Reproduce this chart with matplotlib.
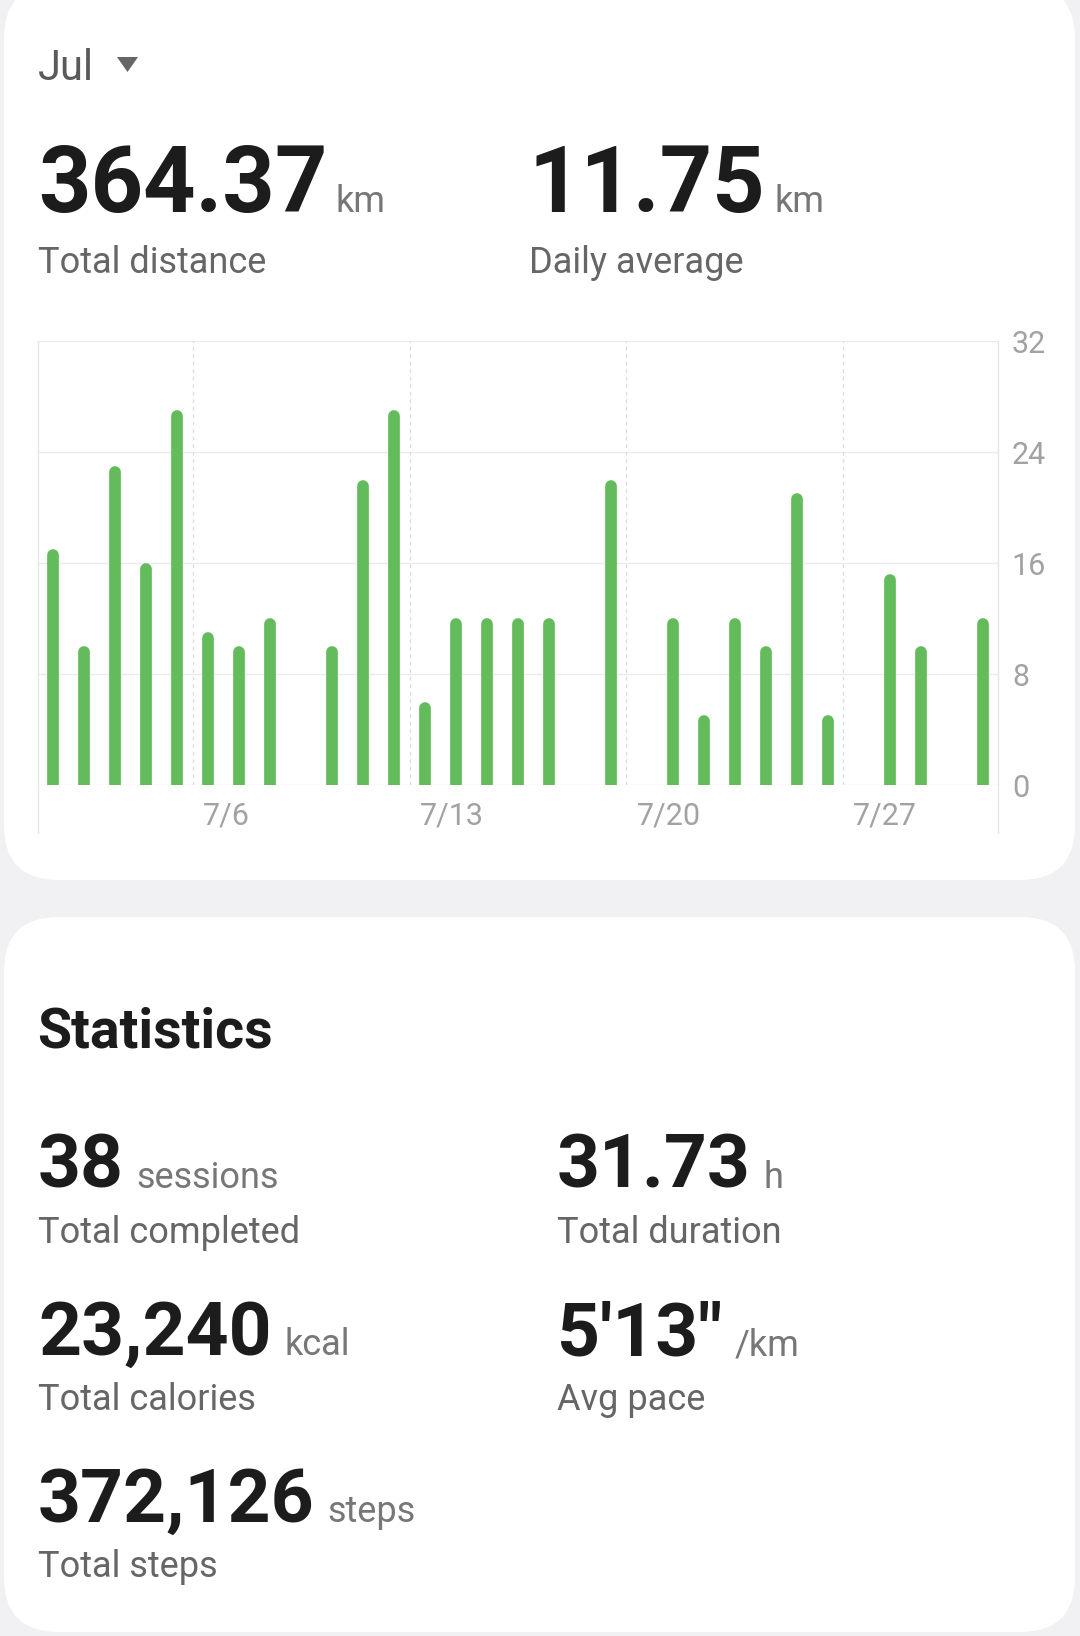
import matplotlib
matplotlib.use('Agg')
import matplotlib.pyplot as plt
import matplotlib.transforms as mtransforms
from matplotlib.patches import FancyBboxPatch, Polygon
import numpy as np

plt.rcParams['font.family'] = ['Roboto', 'DejaVu Sans']

# daily distance in km, July 1..31 (0 = no run)
days = list(range(1, 32))
distance_km = [17, 10, 23, 16, 27, 11, 10, 12, 0, 10,
               22, 27, 6, 12, 12, 12, 12, 0, 22, 0,
               12, 5, 12, 10, 21, 5, 0, 15.2, 10, 0,
               12]
y_ticks = [0, 8, 16, 24, 32]
week_lines = [5.5, 12.5, 19.5, 26.5]
week_labels = ['7/6', '7/13', '7/20', '7/27']

month = 'Jul'
summary = [('364.37', 'km', 'Total distance'),
           ('11.75', 'km', 'Daily average')]
stats = [('38', 'sessions', 'Total completed'),
         ('31.73', 'h', 'Total duration'),
         ('23,240', 'kcal', 'Total calories'),
         ('5\'13"', '/km', 'Avg pace'),
         ('372,126', 'steps', 'Total steps')]

W, H = 1080, 1636
fig = plt.figure(figsize=(W / 100, H / 100), dpi=100)
fig.patch.set_facecolor('#F1F1F3')

# background layer in pixel coordinates
bg = fig.add_axes([0, 0, 1, 1], zorder=0)
bg.set_xlim(0, W)
bg.set_ylim(H, 0)
bg.axis('off')

for top, bottom in [(-16, 880), (917, 1632)]:
    card = FancyBboxPatch((4, top), 1071, bottom - top,
                          boxstyle='round,pad=0,rounding_size=55',
                          facecolor='white', edgecolor='none')
    bg.add_patch(card)

dark = '#1C1C1C'
grey = '#666666'
unit_grey = '#777777'

bg.text(38, 80, month, fontsize=30, color='#5A5A5A', va='baseline')
bg.add_patch(Polygon([[117, 57], [138, 57], [127.5, 72]], closed=True,
                     facecolor='#666666', edgecolor='none'))


def big_number(x, y, value, unit, label, size, unit_size, gap, label_y):
    t = bg.text(x, y, value, fontsize=size, fontweight='bold', color=dark,
                va='baseline')
    bg.annotate(unit, xy=(1, y), xycoords=(t, 'data'), xytext=(gap, 0),
                textcoords='offset points', fontsize=unit_size,
                color=unit_grey, va='baseline')
    bg.text(x, label_y, label, fontsize=26, color=grey, va='baseline')


big_number(38, 212, *summary[0], 66, 26, 6, 273)
big_number(529, 212, *summary[1], 66, 26, 6, 273)

bg.text(37, 1047, 'Statistics', fontsize=40, fontweight='bold', color=dark,
        va='baseline')

stat_pos = [(38, 1188, 1243), (557, 1188, 1243),
            (38, 1355, 1410), (557, 1355, 1410),
            (38, 1522, 1577)]
for (val, unit, label), (x, y, ly) in zip(stats, stat_pos):
    big_number(x, y, val, unit, label, 54, 26, 9, ly)

# chart
ax = fig.add_axes([38 / W, 1 - 785 / H, 960 / W, 444 / H], zorder=1)
ax.set_facecolor('none')
ax.set_xlim(0.5, 31.5)
ax.set_ylim(0, 32)

bar_px = 11.7
px_per_unit = 444 / 32
cap = bar_px / 2 / px_per_unit
vals = np.array(distance_km, dtype=float)
mask = vals > 0
ax.vlines(np.array(days)[mask], 0, vals[mask] - cap, colors='#63BB5B',
          linewidth=bar_px * 72 / 100, capstyle='round', zorder=3)

for yt in y_ticks:
    ax.axhline(yt, color='#EBEBEB', linewidth=1.0, zorder=1)
for xl in week_lines:
    ax.axvline(xl, color='#DCDCDC', linewidth=0.9, linestyle=(0, (3, 3)),
               zorder=1)

for s in ax.spines.values():
    s.set_visible(False)
# left and right frame lines run down past the date labels
for xa in (0, 1):
    ax.plot([xa, xa], [-48 / 444, 1], transform=ax.transAxes,
            color='#E6E6E6', linewidth=1.0, clip_on=False, zorder=1)

ax.yaxis.tick_right()
ax.set_yticks(y_ticks)
ax.set_yticklabels([str(v) for v in y_ticks])
ax.tick_params(axis='y', length=0, pad=10, labelsize=22, labelcolor='#A2A2A2')

ax.set_xticks(week_lines)
ax.set_xticklabels(week_labels)
ax.tick_params(axis='x', length=0, pad=12, labelsize=22, labelcolor='#A2A2A2')
shift = mtransforms.ScaledTranslation(0.10, 0, fig.dpi_scale_trans)
for lab in ax.get_xticklabels():
    lab.set_horizontalalignment('left')
    lab.set_transform(lab.get_transform() + shift)

fig.savefig('out.png', dpi=100, facecolor=fig.get_facecolor())
